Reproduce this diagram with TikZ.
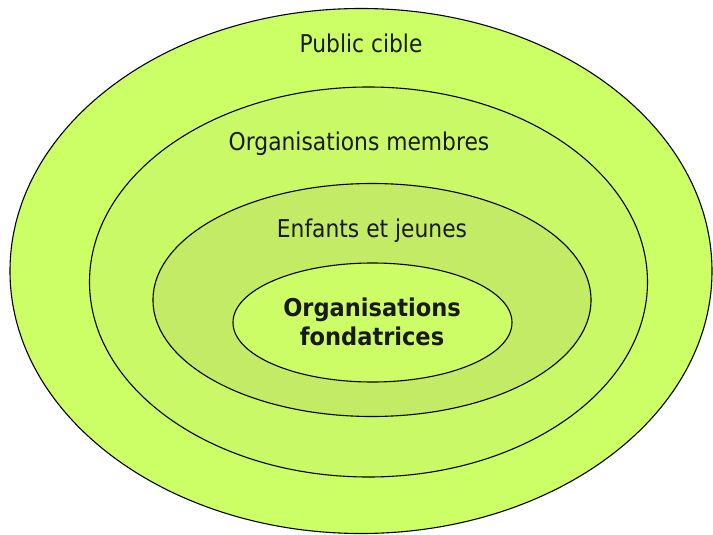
\documentclass[tikz,border=0pt]{standalone}
\usepackage{fontspec}
\setmainfont{DejaVu Sans}[FakeStretch=0.89]
\newfontfamily\boldlabel{DejaVu Sans Bold}[FakeStretch=0.92]
\usetikzlibrary{shapes.geometric}
\definecolor{ringA}{HTML}{CCFF66}
\definecolor{ringB}{HTML}{C9F966}
\definecolor{ringC}{HTML}{C4EB65}
\definecolor{ringD}{HTML}{CCFD66}
\begin{document}
\begin{tikzpicture}[x=1pt,y=-1pt,
  ring/.style={draw=black, line width=1.1pt, ellipse, inner sep=0pt},
  lab/.style={anchor=base, font=\fontsize{24.5}{29}\selectfont, text=black!90},
  boldlab/.style={align=center, font=\fontsize{24.5}{29}\boldlabel, text=black!90}]
\useasboundingbox (0,0) rectangle (713,535);
\node[ring, fill=ringA, minimum width=702pt, minimum height=525pt] (outer) at (361,271) {};
\node[ring, fill=ringB, minimum width=558pt, minimum height=390pt] (members) at (368.5,282) {};
\node[ring, fill=ringC, minimum width=438pt, minimum height=233pt] (youth) at (372,300) {};
\node[ring, fill=ringD, minimum width=279pt, minimum height=119pt] (founders) at (372.5,322.5) {};
\node[lab] (t1) at (361,53) {Public cible};
\node[lab] (t2) at (359,150) {Organisations membres};
\node[lab] (t3) at (372,237) {Enfants et jeunes};
\node[boldlab] (t4) at (372,322) {Organisations\\fondatrices};
\end{tikzpicture}
\end{document}
